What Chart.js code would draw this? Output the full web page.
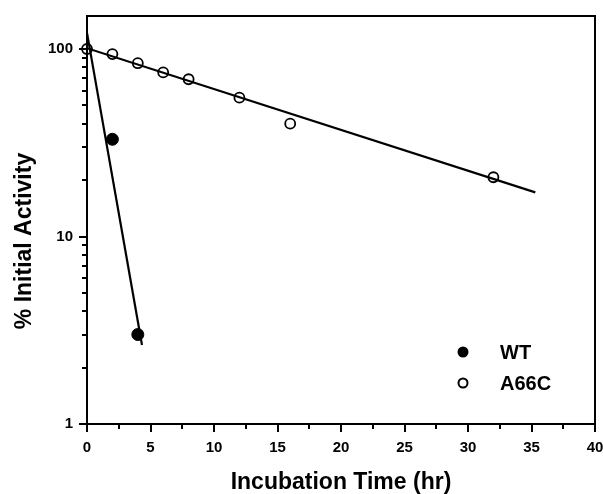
<!DOCTYPE html>
<html>
<head>
<meta charset="utf-8">
<script src="https://cdn.jsdelivr.net/npm/chart.js@4/dist/chart.umd.min.js"></script>
<style>
  html, body { margin: 0; padding: 0; background: #fff; }
  #wrap { width: 603px; height: 494px; }
</style>
</head>
<body>
<div id="wrap"><canvas id="chart" width="603" height="494"></canvas></div>
<script>
// measured points
const WT_HOURS = [2, 4];
const WT_ACTIVITY = [33, 3.0];
const A66C_HOURS = [0, 2, 4, 6, 8, 12, 16, 32];
const A66C_ACTIVITY = [100, 94, 84, 75, 69, 55, 40, 20.7];

// fitted first-order decay lines (end points)
const WT_FIT_HOURS = [0, 4.33];
const WT_FIT_ACTIVITY = [122, 2.64];
const A66C_FIT_HOURS = [0, 35.3];
const A66C_FIT_ACTIVITY = [101, 17.2];

const X_MIN = 0, X_MAX = 40, X_STEP = 5;
const X_MINOR = [2.5, 7.5, 12.5, 17.5, 22.5, 27.5, 32.5, 37.5];
const Y_MIN = 1, Y_MAX = 150;
const Y_TICKS = [1, 10, 100];
const Y_MINOR = [2, 3, 4, 5, 6, 7, 8, 9, 20, 30, 40, 50, 60, 70, 80, 90];

const X_TITLE = "Incubation Time (hr)";
const Y_TITLE = "% Initial Activity";

const FONT = "'Liberation Sans', Arial, Helvetica, sans-serif";

function toPoints(xs, ys) {
  return xs.map((x, i) => ({ x, y: ys[i] }));
}

const framePlugin = {
  id: "framePlugin",
  afterDraw(chart) {
    const { ctx, chartArea: area } = chart;
    const xScale = chart.scales.x;
    const yScale = chart.scales.y;
    ctx.save();
    ctx.strokeStyle = "#000";
    ctx.lineWidth = 2;
    ctx.strokeRect(area.left, area.top, area.right - area.left, area.bottom - area.top);

    // minor ticks, shorter than the major ones
    ctx.beginPath();
    Y_MINOR.forEach((v) => {
      const y = Math.round(yScale.getPixelForValue(v));
      ctx.moveTo(area.left - 5, y);
      ctx.lineTo(area.left, y);
    });
    X_MINOR.forEach((v) => {
      const x = Math.round(xScale.getPixelForValue(v));
      ctx.moveTo(x, area.bottom);
      ctx.lineTo(x, area.bottom + 5);
    });
    ctx.stroke();

    // y title, rotated
    ctx.fillStyle = "#000";
    ctx.font = `bold 23px ${FONT}`;
    ctx.textAlign = "center";
    ctx.textBaseline = "middle";
    ctx.translate(25, 241);
    ctx.rotate(-Math.PI / 2);
    ctx.fillText(Y_TITLE, 0, 0);
    ctx.restore();

    // legend inside the plot
    const sets = chart.data.datasets.filter((d) => d.inLegend);
    ctx.save();
    ctx.font = `bold 20px ${FONT}`;
    ctx.textAlign = "left";
    ctx.textBaseline = "middle";
    sets.forEach((d, i) => {
      const mx = area.right - 132;
      const my = area.bottom - 72 + i * 31;
      ctx.beginPath();
      ctx.arc(mx, my, d.legendRadius, 0, Math.PI * 2);
      if (d.filled) {
        ctx.fillStyle = "#000";
        ctx.fill();
      } else {
        ctx.lineWidth = 2;
        ctx.strokeStyle = "#000";
        ctx.stroke();
      }
      ctx.fillStyle = "#000";
      ctx.fillText(d.label, mx + 37, my + 1);
    });
    ctx.restore();
  },
};

new Chart(document.getElementById("chart"), {
  type: "scatter",
  data: {
    datasets: [
      {
        label: "WT fit",
        data: toPoints(WT_FIT_HOURS, WT_FIT_ACTIVITY),
        showLine: true,
        borderColor: "#000",
        borderWidth: 2.2,
        pointRadius: 0,
      },
      {
        label: "A66C fit",
        data: toPoints(A66C_FIT_HOURS, A66C_FIT_ACTIVITY),
        showLine: true,
        borderColor: "#000",
        borderWidth: 2.2,
        pointRadius: 0,
      },
      {
        label: "WT",
        data: toPoints(WT_HOURS, WT_ACTIVITY),
        inLegend: true,
        filled: true,
        legendRadius: 5.5,
        pointRadius: 6,
        pointBackgroundColor: "#000",
        pointBorderColor: "#000",
        pointBorderWidth: 1,
        clip: false,
      },
      {
        label: "A66C",
        data: toPoints(A66C_HOURS, A66C_ACTIVITY),
        inLegend: true,
        filled: false,
        legendRadius: 4.5,
        pointRadius: 5,
        pointBackgroundColor: "rgba(0,0,0,0)",
        pointBorderColor: "#000",
        pointBorderWidth: 1.8,
        clip: false,
      },
    ],
  },
  plugins: [framePlugin],
  options: {
    responsive: false,
    animation: false,
    events: [],
    layout: { padding: { top: 16, right: 8, bottom: 0, left: 0 } },
    plugins: {
      legend: { display: false },
      tooltip: { enabled: false },
    },
    scales: {
      x: {
        type: "linear",
        min: X_MIN,
        max: X_MAX,
        afterFit(scale) {
          scale.height = 70;
          // let the "40" label run off the edge like the original
          scale.paddingRight = 0;
          scale.paddingLeft = 0;
        },
        border: { display: false },
        grid: { drawOnChartArea: false, color: "#000", lineWidth: 2, tickLength: 8 },
        ticks: {
          stepSize: X_STEP,
          color: "#000",
          padding: 7,
          maxRotation: 0,
          font: { family: FONT, size: 15, weight: "bold" },
        },
        title: {
          display: true,
          text: X_TITLE,
          color: "#000",
          padding: { top: 0, bottom: 0 },
          font: { family: FONT, size: 23, weight: "bold", lineHeight: 1 },
        },
      },
      y: {
        type: "logarithmic",
        min: Y_MIN,
        max: Y_MAX,
        afterFit(scale) { scale.width = 87; },
        afterBuildTicks(scale) {
          scale.ticks = Y_TICKS.map((v) => ({ value: v, major: true }));
        },
        border: { display: false },
        grid: { drawOnChartArea: false, color: "#000", lineWidth: 2, tickLength: 8 },
        ticks: {
          autoSkip: false,
          color: "#000",
          padding: 6,
          font: { family: FONT, size: 15, weight: "bold" },
          callback: (v) => String(v),
        },
      },
    },
  },
});
</script>
</body>
</html>
